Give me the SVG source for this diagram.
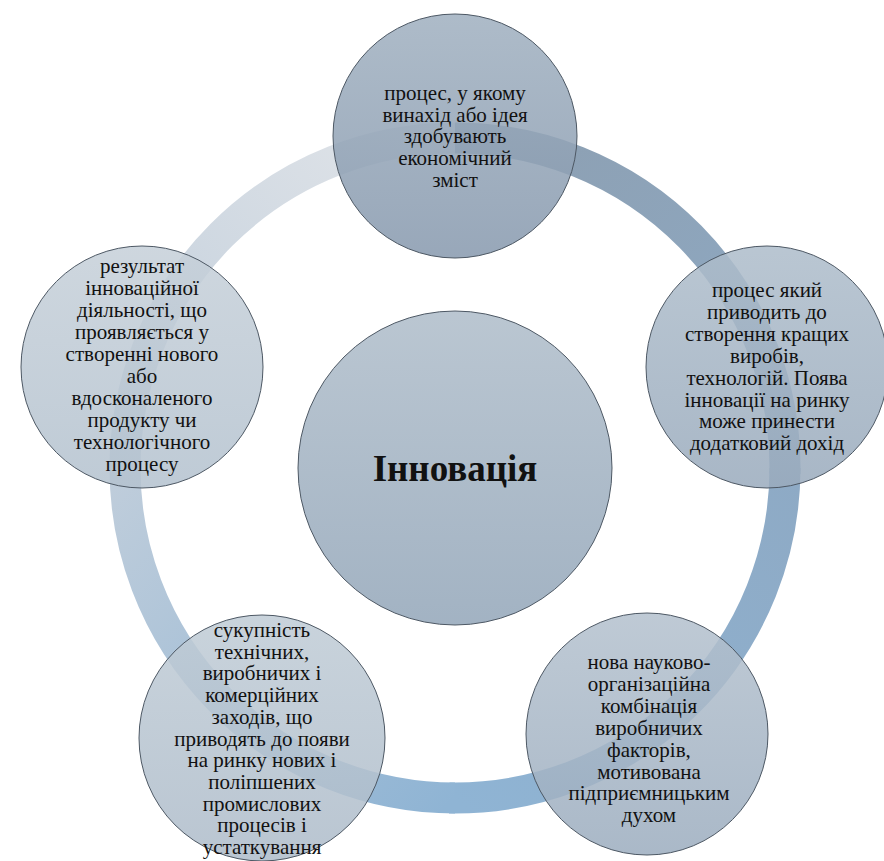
<svg xmlns="http://www.w3.org/2000/svg" width="884" height="861" viewBox="0 0 884 861">
<defs>
<linearGradient id="r1" gradientUnits="userSpaceOnUse" x1="455" y1="138" x2="785" y2="468"><stop offset="0" stop-color="#8d9fb1"/><stop offset="1" stop-color="#8eaac5"/></linearGradient>
<linearGradient id="r2" gradientUnits="userSpaceOnUse" x1="785" y1="468" x2="455" y2="798"><stop offset="0" stop-color="#8eaac5"/><stop offset="1" stop-color="#8fb4d4"/></linearGradient>
<linearGradient id="r3" gradientUnits="userSpaceOnUse" x1="455" y1="798" x2="125" y2="468"><stop offset="0" stop-color="#8fb4d4"/><stop offset="1" stop-color="#bfcddb"/></linearGradient>
<linearGradient id="r4" gradientUnits="userSpaceOnUse" x1="125" y1="468" x2="455" y2="138"><stop offset="0" stop-color="#bfcddb"/><stop offset="1" stop-color="#e2e5e9"/></linearGradient>
<linearGradient id="gTop" x1="0" y1="0" x2="0" y2="1"><stop offset="0" stop-color="#a0b0c0"/><stop offset="1" stop-color="#8799ae"/></linearGradient>
<linearGradient id="gRight" x1="0" y1="0" x2="0" y2="1"><stop offset="0" stop-color="#aebdcb"/><stop offset="1" stop-color="#9aabbd"/></linearGradient>
<linearGradient id="gBR" x1="0" y1="0" x2="0" y2="1"><stop offset="0" stop-color="#b4c1ce"/><stop offset="1" stop-color="#9cadbf"/></linearGradient>
<linearGradient id="gBL" x1="0" y1="0" x2="0" y2="1"><stop offset="0" stop-color="#c0ccd6"/><stop offset="1" stop-color="#aebcca"/></linearGradient>
<linearGradient id="gLeft" x1="0" y1="0" x2="0" y2="1"><stop offset="0" stop-color="#c6d0d9"/><stop offset="1" stop-color="#b4c2cf"/></linearGradient>
<linearGradient id="gCenter" x1="0" y1="0" x2="0" y2="1"><stop offset="0" stop-color="#afbdca"/><stop offset="1" stop-color="#93a6b9"/></linearGradient>
</defs>
<style>
.ring{fill:none;stroke-width:31}
.node{stroke:#4d5864;stroke-width:1;fill-opacity:0.86}
.t{font-family:"Liberation Serif","Times New Roman",serif;font-size:21px;fill:#111;text-anchor:middle}
.big{font-family:"Liberation Serif","Times New Roman",serif;font-size:37px;font-weight:bold;fill:#111;text-anchor:middle}
</style>
<g id="connectors">
<path class="ring" stroke="url(#r1)" d="M 455 138 A 330 330 0 0 1 784.95 473.76"/>
<path class="ring" stroke="url(#r2)" d="M 785 468 A 330 330 0 0 1 449.24 797.95"/>
<path class="ring" stroke="url(#r3)" d="M 455 798 A 330 330 0 0 1 125.05 462.24"/>
<path class="ring" stroke="url(#r4)" d="M 125 468 A 330 330 0 0 1 455 138"/>
</g>
<g id="center">
<circle class="node" cx="455" cy="468" r="157" fill="url(#gCenter)" fill-opacity="1"/>
<text class="big" x="455" y="481">Інновація</text>
</g>
<g id="n-top">
<circle class="node" cx="455" cy="136" r="122" fill="url(#gTop)"/>
<text class="t" x="455" y="100"><tspan x="455">процес, у якому</tspan><tspan x="455" dy="21.7">винахід або ідея</tspan><tspan x="455" dy="21.7">здобувають</tspan><tspan x="455" dy="21.7">економічний</tspan><tspan x="455" dy="21.7">зміст</tspan></text>
</g>
<g id="n-right">
<circle class="node" cx="767" cy="367" r="121" fill="url(#gRight)"/>
<text class="t" x="767" y="297"><tspan x="767">процес який</tspan><tspan x="767" dy="21.9">приводить до</tspan><tspan x="767" dy="21.9">створення кращих</tspan><tspan x="767" dy="21.9">виробів,</tspan><tspan x="767" dy="21.9">технологій. Поява</tspan><tspan x="767" dy="21.9">інновації на ринку</tspan><tspan x="767" dy="21.9">може принести</tspan><tspan x="767" dy="21.9">додатковий дохід</tspan></text>
</g>
<g id="n-bottom-right">
<circle class="node" cx="647" cy="734" r="121" fill="url(#gBR)"/>
<text class="t" x="649" y="669"><tspan x="649">нова науково-</tspan><tspan x="649" dy="21.9">організаційна</tspan><tspan x="649" dy="21.9">комбінація</tspan><tspan x="649" dy="21.9">виробничих</tspan><tspan x="649" dy="21.9">факторів,</tspan><tspan x="649" dy="21.9">мотивована</tspan><tspan x="649" dy="21.9">підприємницьким</tspan><tspan x="649" dy="21.9">духом</tspan></text>
</g>
<g id="n-bottom-left">
<circle class="node" cx="262" cy="738" r="123" fill="url(#gBL)"/>
<text class="t" x="262" y="637"><tspan x="262">сукупність</tspan><tspan x="262" dy="21.7">технічних,</tspan><tspan x="262" dy="21.7">виробничих і</tspan><tspan x="262" dy="21.7">комерційних</tspan><tspan x="262" dy="21.7">заходів, що</tspan><tspan x="262" dy="21.7">приводять до появи</tspan><tspan x="262" dy="21.7">на ринку нових і</tspan><tspan x="262" dy="21.7">поліпшених</tspan><tspan x="262" dy="21.7">промислових</tspan><tspan x="262" dy="21.7">процесів і</tspan><tspan x="262" dy="21.7">устаткування</tspan></text>
</g>
<g id="n-left">
<circle class="node" cx="142" cy="367" r="121" fill="url(#gLeft)"/>
<text class="t" x="142" y="273"><tspan x="142">результат</tspan><tspan x="142" dy="22">інноваційної</tspan><tspan x="142" dy="22">діяльності, що</tspan><tspan x="142" dy="22">проявляється у</tspan><tspan x="142" dy="22">створенні нового</tspan><tspan x="142" dy="22">або</tspan><tspan x="142" dy="22">вдосконаленого</tspan><tspan x="142" dy="22">продукту чи</tspan><tspan x="142" dy="22">технологічного</tspan><tspan x="142" dy="22">процесу</tspan></text>
</g>
</svg>
